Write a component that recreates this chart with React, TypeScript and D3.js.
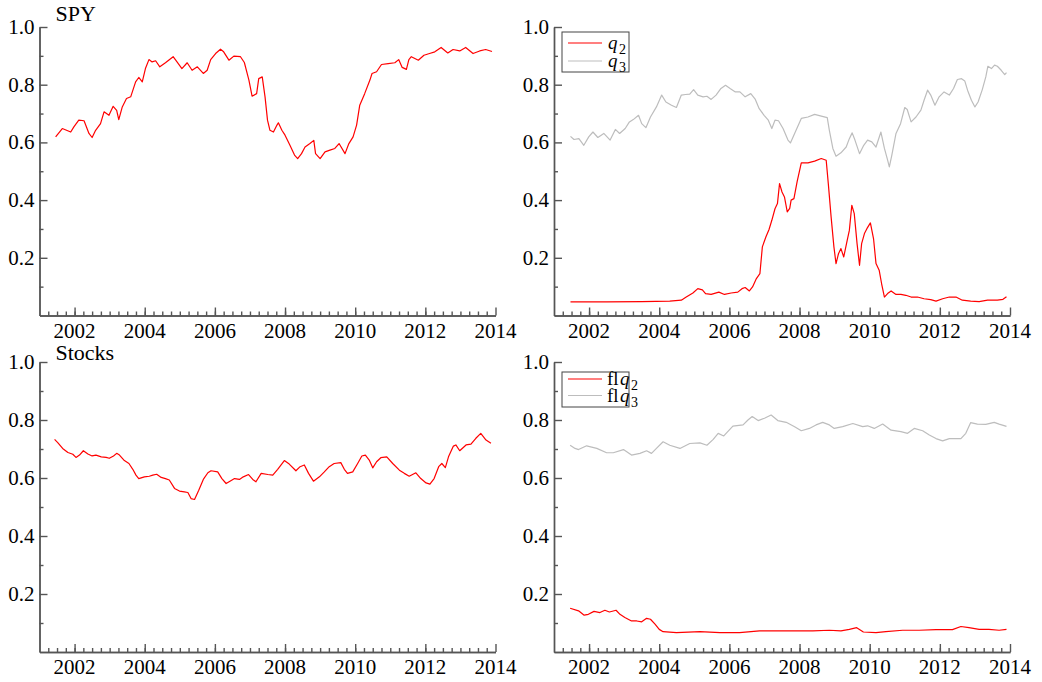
import { useRef, useEffect } from 'react'
import * as d3 from 'd3'

const yearTicks = [2002, 2004, 2006, 2008, 2010, 2012, 2014]
const valueTicks = [0.2, 0.4, 0.6, 0.8, 1.0]

// [decimal year, value]
const spy = [[2001.46,0.619],[2001.5,0.625],[2001.65,0.648],[2001.89,0.636],[2001.98,0.654],[2002.12,0.677],[2002.27,0.675],[2002.41,0.631],[2002.5,0.617],[2002.6,0.642],[2002.74,0.665],[2002.84,0.706],[2002.98,0.694],[2003.1,0.725],[2003.2,0.711],[2003.26,0.679],[2003.36,0.723],[2003.48,0.752],[2003.6,0.758],[2003.74,0.81],[2003.83,0.825],[2003.93,0.81],[2004.02,0.856],[2004.12,0.887],[2004.21,0.879],[2004.31,0.883],[2004.43,0.862],[2004.59,0.876],[2004.81,0.897],[2004.92,0.879],[2005.06,0.856],[2005.21,0.876],[2005.35,0.85],[2005.5,0.862],[2005.67,0.839],[2005.78,0.85],[2005.88,0.887],[2006.02,0.908],[2006.16,0.923],[2006.25,0.914],[2006.4,0.885],[2006.54,0.899],[2006.73,0.897],[2006.84,0.877],[2006.97,0.816],[2007.06,0.76],[2007.19,0.769],[2007.25,0.821],[2007.35,0.827],[2007.43,0.758],[2007.5,0.677],[2007.57,0.642],[2007.67,0.636],[2007.77,0.66],[2007.81,0.668],[2007.91,0.642],[2008.0,0.625],[2008.14,0.59],[2008.27,0.556],[2008.36,0.544],[2008.47,0.561],[2008.57,0.584],[2008.71,0.596],[2008.82,0.607],[2008.87,0.561],[2009.0,0.544],[2009.14,0.567],[2009.28,0.573],[2009.42,0.579],[2009.54,0.596],[2009.71,0.561],[2009.82,0.596],[2009.94,0.619],[2010.04,0.66],[2010.13,0.729],[2010.27,0.769],[2010.42,0.816],[2010.48,0.839],[2010.61,0.845],[2010.75,0.87],[2010.94,0.873],[2011.13,0.876],[2011.24,0.887],[2011.34,0.86],[2011.46,0.853],[2011.53,0.887],[2011.6,0.897],[2011.8,0.885],[2011.96,0.902],[2012.12,0.908],[2012.27,0.914],[2012.45,0.929],[2012.64,0.91],[2012.79,0.922],[2012.98,0.917],[2013.15,0.929],[2013.36,0.908],[2013.55,0.917],[2013.72,0.922],[2013.9,0.915]]

const q2 = [[2001.47,0.047],[2002.5,0.047],[2003.5,0.048],[2004.3,0.05],[2004.63,0.053],[2004.77,0.064],[2004.96,0.078],[2005.1,0.093],[2005.23,0.089],[2005.32,0.076],[2005.48,0.073],[2005.7,0.081],[2005.86,0.073],[2006.05,0.078],[2006.24,0.081],[2006.36,0.093],[2006.45,0.097],[2006.57,0.085],[2006.66,0.099],[2006.77,0.128],[2006.87,0.145],[2006.94,0.238],[2007.04,0.272],[2007.13,0.298],[2007.21,0.33],[2007.3,0.37],[2007.37,0.388],[2007.43,0.457],[2007.5,0.428],[2007.57,0.411],[2007.65,0.359],[2007.72,0.371],[2007.76,0.4],[2007.84,0.405],[2007.93,0.463],[2008.05,0.529],[2008.24,0.529],[2008.43,0.535],[2008.62,0.544],[2008.76,0.538],[2008.82,0.457],[2008.9,0.342],[2008.98,0.238],[2009.04,0.18],[2009.11,0.214],[2009.18,0.232],[2009.26,0.203],[2009.36,0.261],[2009.42,0.295],[2009.49,0.382],[2009.56,0.353],[2009.64,0.249],[2009.71,0.174],[2009.77,0.249],[2009.85,0.284],[2009.92,0.301],[2010.02,0.321],[2010.11,0.266],[2010.18,0.18],[2010.27,0.157],[2010.34,0.11],[2010.42,0.064],[2010.51,0.076],[2010.61,0.085],[2010.75,0.073],[2010.89,0.073],[2011.03,0.07],[2011.18,0.064],[2011.36,0.064],[2011.55,0.058],[2011.74,0.055],[2011.89,0.05],[2012.08,0.058],[2012.27,0.064],[2012.46,0.064],[2012.64,0.053],[2012.88,0.05],[2013.12,0.048],[2013.36,0.053],[2013.64,0.053],[2013.8,0.056],[2013.9,0.065]]

const q3 = [[2001.47,0.621],[2001.57,0.61],[2001.71,0.613],[2001.85,0.59],[2001.99,0.619],[2002.11,0.636],[2002.25,0.617],[2002.42,0.631],[2002.6,0.608],[2002.75,0.645],[2002.87,0.631],[2003.03,0.648],[2003.15,0.671],[2003.26,0.679],[2003.41,0.694],[2003.5,0.665],[2003.62,0.651],[2003.75,0.688],[2003.92,0.723],[2004.07,0.764],[2004.19,0.74],[2004.35,0.729],[2004.49,0.721],[2004.63,0.764],[2004.75,0.766],[2004.87,0.767],[2004.98,0.783],[2005.1,0.764],[2005.25,0.758],[2005.36,0.76],[2005.48,0.749],[2005.62,0.764],[2005.76,0.787],[2005.89,0.798],[2006.02,0.787],[2006.17,0.775],[2006.3,0.775],[2006.45,0.758],[2006.61,0.769],[2006.74,0.749],[2006.85,0.717],[2006.99,0.694],[2007.11,0.677],[2007.21,0.648],[2007.3,0.677],[2007.4,0.675],[2007.53,0.648],[2007.67,0.608],[2007.74,0.598],[2007.86,0.631],[2008.05,0.683],[2008.24,0.688],[2008.43,0.697],[2008.62,0.691],[2008.79,0.686],[2008.85,0.642],[2008.95,0.579],[2009.04,0.552],[2009.18,0.564],[2009.33,0.584],[2009.42,0.613],[2009.5,0.633],[2009.58,0.608],[2009.71,0.561],[2009.83,0.59],[2009.94,0.608],[2010.06,0.602],[2010.18,0.584],[2010.32,0.636],[2010.42,0.579],[2010.5,0.544],[2010.56,0.515],[2010.63,0.555],[2010.75,0.631],[2010.88,0.665],[2011.0,0.721],[2011.07,0.714],[2011.18,0.671],[2011.32,0.688],[2011.46,0.712],[2011.55,0.746],[2011.65,0.781],[2011.74,0.764],[2011.86,0.729],[2011.98,0.758],[2012.12,0.775],[2012.27,0.764],[2012.39,0.787],[2012.5,0.818],[2012.62,0.821],[2012.71,0.813],[2012.79,0.781],[2012.9,0.746],[2013.0,0.723],[2013.09,0.74],[2013.21,0.783],[2013.31,0.827],[2013.37,0.864],[2013.47,0.856],[2013.56,0.868],[2013.64,0.864],[2013.75,0.85],[2013.85,0.835],[2013.9,0.842]]

const stocks = [[2001.43,0.733],[2001.52,0.722],[2001.66,0.702],[2001.81,0.688],[2001.95,0.682],[2002.04,0.671],[2002.14,0.679],[2002.25,0.694],[2002.38,0.683],[2002.5,0.676],[2002.61,0.679],[2002.76,0.673],[2002.9,0.671],[2002.99,0.668],[2003.11,0.676],[2003.2,0.685],[2003.28,0.679],[2003.42,0.66],[2003.55,0.65],[2003.66,0.63],[2003.75,0.61],[2003.83,0.598],[2003.99,0.604],[2004.13,0.606],[2004.23,0.61],[2004.34,0.613],[2004.47,0.602],[2004.59,0.598],[2004.7,0.593],[2004.85,0.564],[2004.99,0.555],[2005.13,0.552],[2005.23,0.55],[2005.32,0.529],[2005.42,0.526],[2005.54,0.558],[2005.67,0.595],[2005.8,0.618],[2005.89,0.625],[2006.08,0.621],[2006.2,0.598],[2006.32,0.581],[2006.43,0.589],[2006.56,0.598],[2006.7,0.595],[2006.81,0.604],[2006.96,0.612],[2007.08,0.595],[2007.17,0.587],[2007.32,0.616],[2007.51,0.612],[2007.65,0.61],[2007.79,0.63],[2007.98,0.66],[2008.12,0.648],[2008.31,0.625],[2008.43,0.639],[2008.55,0.645],[2008.67,0.616],[2008.81,0.589],[2008.98,0.604],[2009.12,0.621],[2009.26,0.639],[2009.4,0.65],[2009.59,0.653],[2009.69,0.63],[2009.78,0.616],[2009.93,0.621],[2010.07,0.65],[2010.19,0.676],[2010.29,0.679],[2010.4,0.662],[2010.5,0.635],[2010.61,0.656],[2010.73,0.67],[2010.9,0.673],[2011.07,0.65],[2011.26,0.627],[2011.4,0.616],[2011.54,0.606],[2011.73,0.618],[2011.87,0.598],[2012.02,0.583],[2012.13,0.579],[2012.25,0.598],[2012.38,0.639],[2012.47,0.65],[2012.57,0.636],[2012.66,0.673],[2012.8,0.71],[2012.87,0.714],[2012.98,0.694],[2013.16,0.714],[2013.3,0.717],[2013.44,0.737],[2013.58,0.754],[2013.73,0.731],[2013.87,0.72]]

const fq2 = [[2001.46,0.151],[2001.7,0.142],[2001.86,0.127],[2001.98,0.13],[2002.14,0.14],[2002.31,0.136],[2002.45,0.144],[2002.58,0.138],[2002.77,0.144],[2002.88,0.13],[2003.02,0.119],[2003.21,0.107],[2003.36,0.107],[2003.5,0.104],[2003.64,0.116],[2003.75,0.113],[2003.88,0.096],[2004.0,0.078],[2004.11,0.07],[2004.49,0.067],[2005.16,0.07],[2005.73,0.067],[2006.29,0.067],[2006.86,0.073],[2007.62,0.073],[2008.38,0.073],[2008.85,0.075],[2009.18,0.073],[2009.42,0.078],[2009.63,0.084],[2009.82,0.069],[2010.18,0.067],[2010.46,0.07],[2010.94,0.075],[2011.41,0.075],[2011.89,0.077],[2012.36,0.077],[2012.6,0.088],[2012.83,0.084],[2013.12,0.078],[2013.4,0.078],[2013.69,0.075],[2013.9,0.078]]

const fq3 = [[2001.46,0.713],[2001.6,0.702],[2001.7,0.698],[2001.93,0.711],[2002.22,0.702],[2002.5,0.687],[2002.69,0.687],[2002.98,0.698],[2003.21,0.679],[2003.45,0.685],[2003.64,0.694],[2003.78,0.685],[2003.92,0.702],[2004.11,0.725],[2004.3,0.713],[2004.59,0.702],[2004.87,0.719],[2005.16,0.721],[2005.36,0.713],[2005.54,0.733],[2005.68,0.754],[2005.84,0.745],[2006.1,0.779],[2006.39,0.783],[2006.53,0.8],[2006.65,0.812],[2006.82,0.798],[2007.0,0.806],[2007.19,0.817],[2007.38,0.798],[2007.62,0.792],[2007.86,0.777],[2008.05,0.763],[2008.28,0.771],[2008.47,0.783],[2008.66,0.792],[2008.85,0.783],[2008.99,0.771],[2009.23,0.777],[2009.52,0.788],[2009.8,0.777],[2009.94,0.78],[2010.13,0.771],[2010.37,0.786],[2010.61,0.765],[2010.89,0.76],[2011.08,0.754],[2011.27,0.771],[2011.51,0.763],[2011.7,0.748],[2011.89,0.736],[2012.08,0.728],[2012.27,0.736],[2012.6,0.736],[2012.74,0.754],[2012.88,0.791],[2013.07,0.786],[2013.31,0.785],[2013.55,0.792],[2013.69,0.786],[2013.9,0.778]]

const RED = '#ff0000'
const GREY = '#bdbdbd'
const AXIS = '#555'
const FONT = 'Liberation Serif'

const panels = [
  { left: 39.5, top: 27, bottom: 315.5, title: 'SPY', titleY: 21, series: [{ data: spy, color: RED }] },
  { left: 554, top: 27, bottom: 315.5, series: [{ data: q2, color: RED }, { data: q3, color: GREY }],
    legend: { prefix: '', labels: ['2', '3'], y: 32, h: 40, gap: 18, first: 11 } },
  { left: 39.5, top: 362, bottom: 652, title: 'Stocks', titleY: 360, series: [{ data: stocks, color: RED }] },
  { left: 554, top: 362, bottom: 652, series: [{ data: fq2, color: RED }, { data: fq3, color: GREY }],
    legend: { prefix: 'fl', labels: ['2', '3'], y: 372, h: 35, gap: 16.5, first: 7 } },
]

const Panel = ({ left, top, bottom, title, titleY, series, legend }: any) => {
  const xRef = useRef(null)
  const yRef = useRef(null)
  const xMinorRef = useRef(null)
  const yMinorRef = useRef(null)

  const x = d3.scaleLinear().domain([2001, 2014]).range([left, left + 456])
  const y = d3.scaleLinear().domain([0, 1]).range([bottom, top])

  useEffect(() => {
    const style = (g: any) => {
      g.selectAll('path,line').attr('stroke', AXIS).attr('stroke-width', 1.4)
      g.selectAll('text').remove()
    }
    d3.select(xRef.current)
      .call(d3.axisBottom(x).tickValues(yearTicks).tickSize(-8).tickSizeOuter(0) as any)
      .call(style)
    d3.select(yRef.current)
      .call(d3.axisLeft(y).tickValues(valueTicks).tickSize(-8).tickSizeOuter(0) as any)
      .call(style)
    d3.select(xMinorRef.current)
      .call(d3.axisBottom(x).tickValues(d3.range(2001.25, 2014, 0.25)).tickSize(-4).tickSizeOuter(0) as any)
      .call(style)
    d3.select(yMinorRef.current)
      .call(d3.axisLeft(y).tickValues([0.1, 0.3, 0.5, 0.7, 0.9]).tickSize(-4).tickSizeOuter(0) as any)
      .call(style)
  }, [left, top, bottom])

  const lineGen = d3.line<number[]>().x(d => x(d[0])).y(d => y(d[1]))
  const qx = left + 54 + (legend && legend.prefix ? 12 : 0)

  return (
    <g>
      {series.map((s: any, i: number) => (
        <path key={i} d={lineGen(s.data) || ''} fill="none" stroke={s.color} strokeWidth={1.2} strokeLinejoin="round" />
      ))}
      <g ref={xMinorRef} transform={`translate(0,${bottom})`} />
      <g ref={yMinorRef} transform={`translate(${left},0)`} />
      <g ref={xRef} transform={`translate(0,${bottom})`} />
      <g ref={yRef} transform={`translate(${left},0)`} />
      <g fontFamily={FONT} fontSize={21} fill="#000">
        {yearTicks.map(t => (
          <text key={t} x={x(t)} y={bottom + 22} textAnchor="middle">{t}</text>
        ))}
        {valueTicks.map(t => (
          <text key={t} x={left - 5} y={y(t) + 7} textAnchor="end">{d3.format('.1f')(t)}</text>
        ))}
      </g>
      {title && (
        <text x={left + 16} y={titleY} fontFamily={FONT} fontSize={22}>{title}</text>
      )}
      {legend && (
        <g fontFamily={FONT}>
          <rect x={left + 8} y={legend.y} width={67} height={legend.h} fill="#fff" stroke="#444" strokeWidth={1} />
          {series.map((s: any, i: number) => {
            const ly = legend.y + legend.first + i * legend.gap
            return (
              <g key={i}>
                <line x1={left + 14} x2={left + 48} y1={ly} y2={ly} stroke={s.color} strokeWidth={1.2} />
                {legend.prefix && <text x={left + 53} y={ly + 6} fontSize={19}>{legend.prefix}</text>}
                <text x={qx} y={ly + 6} fontSize={19} fontStyle="italic">q</text>
                <text x={qx + 11} y={ly + 11} fontSize={14}>{legend.labels[i]}</text>
              </g>
            )
          })}
        </g>
      )}
    </g>
  )
}

export default function App() {
  return (
    <svg width={1042} height={682} style={{ position: 'absolute', left: 0, top: 0, background: '#fff' }}>
      {panels.map((p, i) => <Panel key={i} {...p} />)}
    </svg>
  )
}
